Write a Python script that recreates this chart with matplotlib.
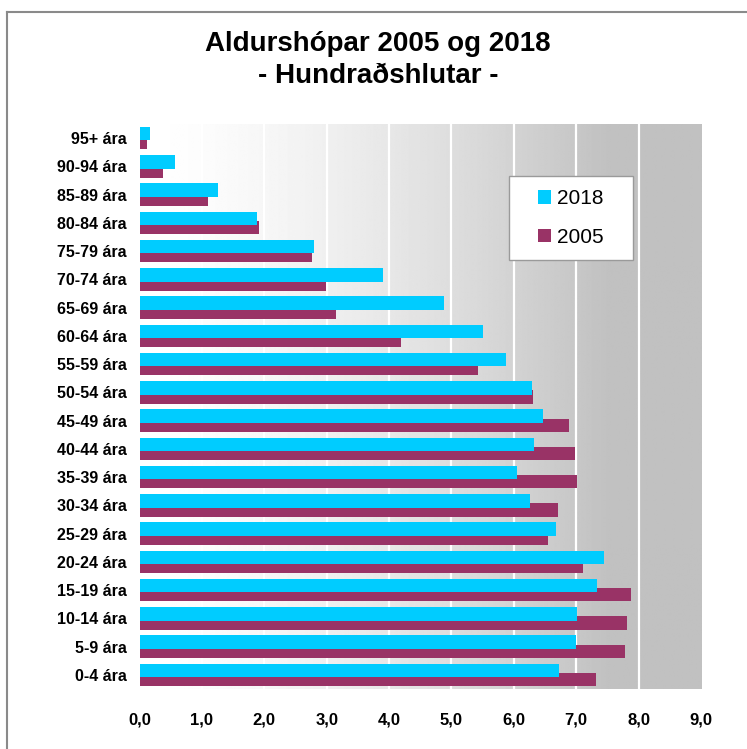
import numpy as np
import matplotlib.pyplot as plt
from matplotlib.patches import Rectangle, Patch
from matplotlib.lines import Line2D

plt.rcParams['font.family'] = ['Liberation Sans', 'DejaVu Sans']

# DATA
###############################################################################
groups = ['0-4 ára', '5-9 ára', '10-14 ára', '15-19 ára', '20-24 ára',
          '25-29 ára', '30-34 ára', '35-39 ára', '40-44 ára', '45-49 ára',
          '50-54 ára', '55-59 ára', '60-64 ára', '65-69 ára', '70-74 ára',
          '75-79 ára', '80-84 ára', '85-89 ára', '90-94 ára', '95+ ára']
y2018 = [6.73, 6.99, 7.01, 7.33, 7.44, 6.67, 6.26, 6.05, 6.32, 6.46,
         6.29, 5.87, 5.51, 4.88, 3.91, 2.80, 1.88, 1.25, 0.56, 0.17]
y2005 = [7.32, 7.78, 7.81, 7.88, 7.11, 6.55, 6.70, 7.01, 6.98, 6.89,
         6.30, 5.42, 4.19, 3.15, 2.99, 2.77, 1.91, 1.09, 0.37, 0.12]
xticks = [0, 1, 2, 3, 4, 5, 6, 7, 8, 9]
xticklabels = ['0,0', '1,0', '2,0', '3,0', '4,0', '5,0', '6,0', '7,0', '8,0', '9,0']
series_names = ['2018', '2005']
colors = ['#00ccff', '#993366']
###############################################################################

fig = plt.figure(figsize=(7.47, 7.49), dpi=100)
ax = fig.add_axes([0.1869, 0.0801, 0.7515, 0.7543])

ypos = np.arange(len(groups))
ax.set_ylim(-0.5, len(groups) - 0.5)
ax.set_xlim(0, 9)

# background gradient white -> gray
gx = np.linspace(0, 9, 500)
gray = 255 - 62 * np.clip(gx / 7.5, 0, 1) ** 1.5
grad = np.tile(gray / 255.0, (2, 1))
ax.imshow(grad, cmap='gray', vmin=0, vmax=1, aspect='auto',
          extent=[0, 9, -0.5, len(groups) - 0.5], zorder=0, interpolation='bilinear')

# white vertical grid
for t in xticks[1:-1]:
    ax.axvline(t, color='white', lw=1.6, zorder=1)

h = 0.47
off = 0.16
ax.barh(ypos - off, y2005, height=h, color=colors[1], zorder=2, linewidth=0)
ax.barh(ypos + off, y2018, height=h, color=colors[0], zorder=3, linewidth=0)

ax.set_yticks(ypos)
ax.set_yticklabels(groups, fontsize=11.5, fontweight='bold')
ax.set_xticks(xticks)
ax.set_xticklabels(xticklabels, fontsize=12, fontweight='bold')
ax.tick_params(axis='y', length=0, pad=9)
ax.tick_params(axis='x', length=0, pad=17)
for s in ax.spines.values():
    s.set_visible(False)

# title
fig.text(0.506, 1 - 44 / 749, 'Aldurshópar 2005 og 2018', ha='center', va='center',
         fontsize=20, fontweight='bold')
fig.text(0.506, 1 - 76 / 749, '- Hundraðshlutar -', ha='center', va='center',
         fontsize=20, fontweight='bold')

# legend box
fig.patches.append(Rectangle((509 / 747, 1 - 260 / 749), 124 / 747, 84 / 749,
                             transform=fig.transFigure, facecolor='white',
                             edgecolor='#9a9a9a', lw=1, zorder=5))
handles = [Patch(facecolor=colors[0]), Patch(facecolor=colors[1])]
leg = fig.legend(handles, series_names, loc='center',
                 bbox_to_anchor=(571 / 747, 1 - 218 / 749), frameon=False,
                 fontsize=15, handlelength=0.62, handleheight=0.62,
                 handletextpad=0.3, labelspacing=0.95)
leg.set_zorder(6)

# outer frame (left and top edge)
fig.add_artist(Line2D([7 / 747, 7 / 747], [0, 1 - 12 / 749], transform=fig.transFigure,
                      color='#8a8a8a', lw=1.5))
fig.add_artist(Line2D([7 / 747, 1], [1 - 12 / 749, 1 - 12 / 749], transform=fig.transFigure,
                      color='#8a8a8a', lw=1.5))

fig.savefig('out.png', dpi=100)
